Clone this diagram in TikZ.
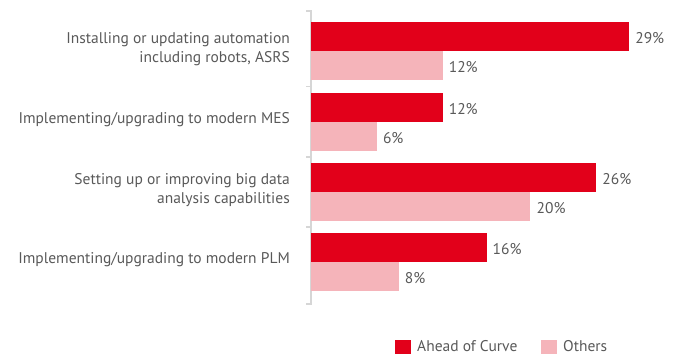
\documentclass[tikz,border=0pt]{standalone}
\usepackage{fontspec}
\setmainfont{PT Sans}
\usetikzlibrary{positioning}
\definecolor{ahead}{RGB}{226,0,26}
\definecolor{others}{RGB}{245,180,186}
\definecolor{txtgray}{RGB}{89,89,89}
\definecolor{axisgray}{RGB}{214,214,214}
\tikzset{
  aheadbar/.style={fill=ahead, draw=none},
  othersbar/.style={fill=others, draw=none},
  vallabel/.style={anchor=west, text=txtgray, inner sep=0pt, font=\fontsize{15.5}{18}\selectfont},
  catlabel/.style={anchor=east, align=right, text=txtgray, inner sep=0pt, font=\fontsize{15.5}{19}\selectfont},
}
\def\pct{10.97}

\begin{document}
\begin{tikzpicture}[x=1pt, y=-1pt]
			%%%%% START %%%%%
			\useasboundingbox (0,0) rectangle (680,355);
			
			% axis with ticks
			\draw[axisgray, line width=1.5pt] (306,11) -- (311,11) -- (311,304) -- (306,304);
			\foreach \t in {86.5,157,227}
				\draw[axisgray, line width=1.5pt] (306,\t) -- (311,\t);
			
			% bars, values, categories
			\foreach \g/\a/\o/\txt [count=\i] in {
				22/29/12/{Installing or updating automation\\including robots, ASRS},
				93/12/6/{Implementing/upgrading to modern MES},
				163/26/20/{Setting up or improving big data\\analysis capabilities},
				233/16/8/{Implementing/upgrading to modern PLM}}{
				\fill[aheadbar] (311,\g) rectangle ({311+\a*\pct},\g+29);
				\fill[othersbar] (311,\g+29) rectangle ({311+\o*\pct},\g+58);
				\node[vallabel] (a\i) at ({317+\a*\pct},\g+16) {\a\%};
				\node[vallabel] (o\i) at ({317+\o*\pct},\g+45) {\o\%};
				\node[catlabel] (c\i) at (290,\g+27) {\txt};
			}
			
			% legend
			\fill[aheadbar] (395,340) rectangle (411,354);
			\node[vallabel] (legA) at (417,346.5) {Ahead of Curve};
			\fill[othersbar] (541,340) rectangle (557,354);
			\node[vallabel] (legO) at (563,346.5) {Others};
			
			%%%%% END %%%%%
		\end{tikzpicture}
\end{document}
